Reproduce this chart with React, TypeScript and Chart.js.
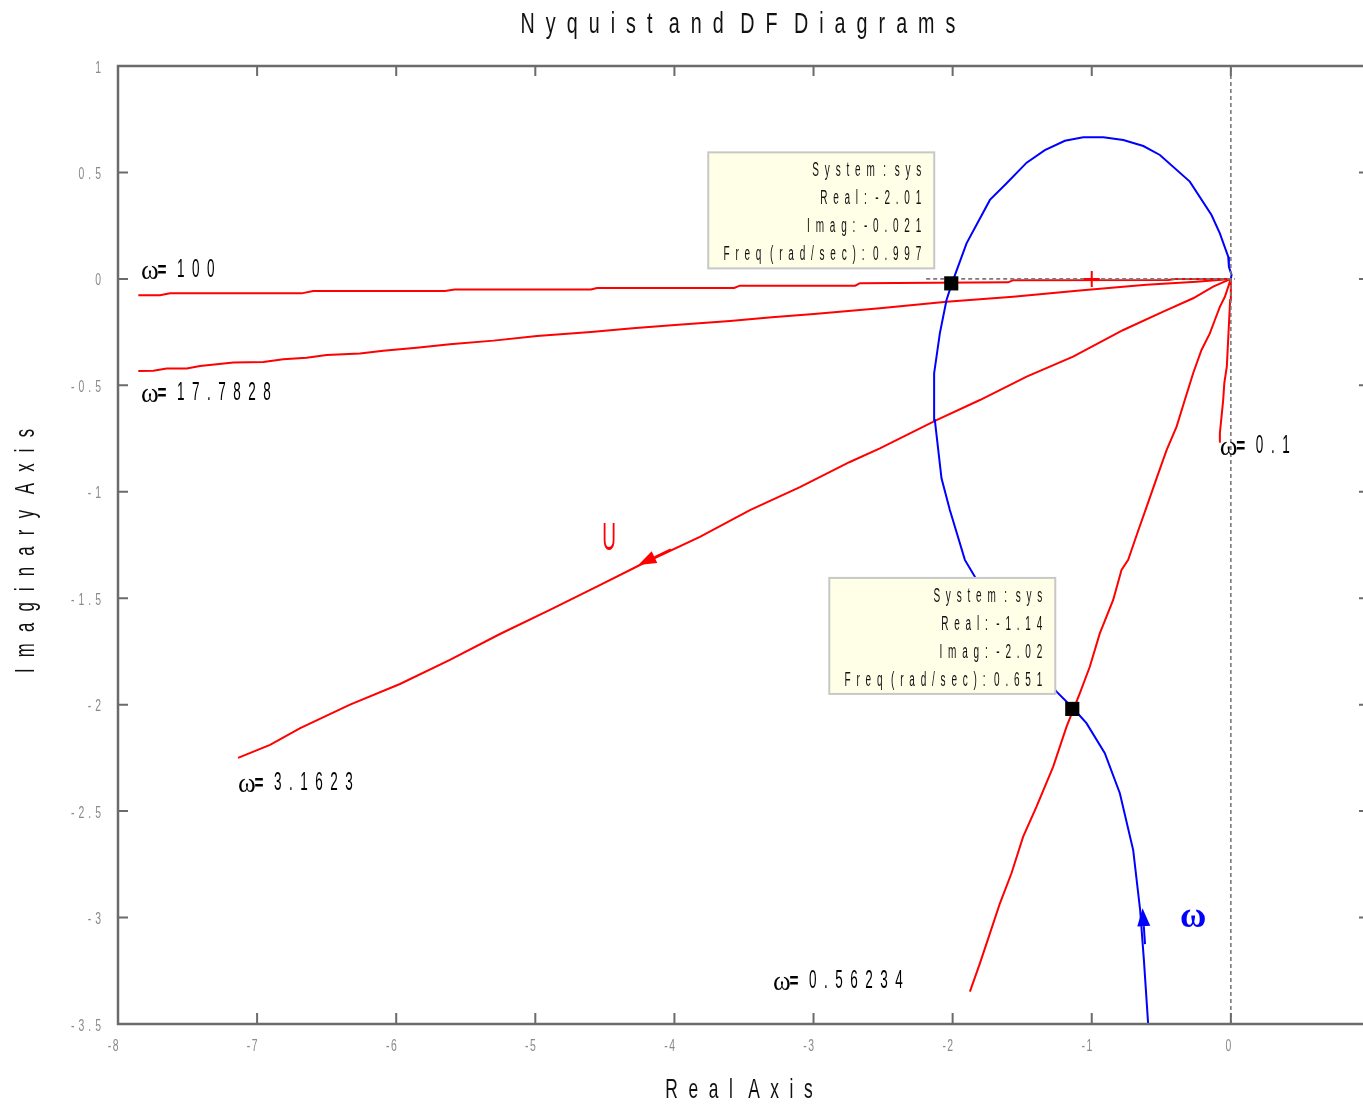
import React, { useEffect, useRef } from 'react';
import { Chart, registerables } from 'chart.js';

Chart.register(...registerables);

// ---------- DATA ----------
// Nyquist locus of G(jw) (blue), from low (bottom) to high frequency (origin)
const nyqRe = [-0.594, -0.625, -0.652, -0.702, -0.798, -0.906, -1.038, -1.134, -1.253, -1.45, -1.65, -1.84, -1.912, -2.02, -2.08, -2.128, -2.133, -2.092, -2.044, -2.004, -1.9, -1.732, -1.612, -1.468, -1.337, -1.193, -1.061, -0.917, -0.773, -0.629, -0.51, -0.295, -0.139, -0.079, -0.019, -0.014, 0.005, 0];
const nyqIm = [-3.505, -3.2, -2.965, -2.683, -2.416, -2.228, -2.087, -2.017, -1.939, -1.78, -1.58, -1.399, -1.32, -1.086, -0.937, -0.663, -0.443, -0.256, -0.099, -0.019, 0.167, 0.371, 0.449, 0.546, 0.605, 0.649, 0.665, 0.665, 0.652, 0.624, 0.582, 0.457, 0.3, 0.214, 0.104, 0.057, 0.019, 0];

// -1/N(A, w) describing-function loci (red), one per frequency
const dfFreqLabels = ['100', '17.7828', '3.1623', '0.56234', '0.1'];

const df100Re = [-7.854, -7.698, -7.626, -6.68, -6.597, -5.65, -5.58, -4.6, -4.557, -3.57, -3.53, -2.7, -2.667, -1.6, -1.565, -0.45, -0.4, 0];
const df100Im = [-0.077, -0.077, -0.068, -0.068, -0.057, -0.057, -0.05, -0.05, -0.043, -0.043, -0.032, -0.032, -0.02, -0.016, -0.006, -0.005, -0.001, 0];

const df17Re = [-7.854, -7.746, -7.65, -7.506, -7.41, -7.29, -7.171, -6.955, -6.812, -6.644, -6.5, -6.261, -6.093, -5.853, -5.614, -5.3, -4.988, -4.6, -4.3, -3.996, -3.6, -3.3, -2.997, -2.523, -2.044, -1.565, -1.086, -0.607, -0.247, 0];
const df17Im = [-0.433, -0.431, -0.421, -0.421, -0.409, -0.401, -0.393, -0.39, -0.378, -0.37, -0.358, -0.35, -0.337, -0.323, -0.307, -0.29, -0.268, -0.25, -0.232, -0.217, -0.198, -0.18, -0.165, -0.138, -0.107, -0.084, -0.055, -0.028, -0.013, 0];

const df3Re = [-7.137, -6.907, -6.69, -6.332, -5.973, -5.614, -5.254, -4.895, -4.536, -4.248, -3.817, -3.457, -3.098, -2.739, -2.523, -2.116, -1.804, -1.468, -1.134, -0.773, -0.486, -0.271, -0.127, 0];
const df3Im = [-2.25, -2.189, -2.11, -2.0, -1.903, -1.79, -1.668, -1.555, -1.438, -1.344, -1.212, -1.086, -0.978, -0.86, -0.796, -0.663, -0.569, -0.459, -0.365, -0.24, -0.154, -0.091, -0.036, 0];

const df05Re = [-1.876, -1.804, -1.732, -1.66, -1.577, -1.493, -1.397, -1.277, -1.181, -1.086, -1.014, -0.942, -0.846, -0.786, -0.738, -0.67, -0.6, -0.534, -0.462, -0.39, -0.331, -0.271, -0.211, -0.151, -0.115, -0.079, -0.043, 0];
const df05Im = [-3.348, -3.215, -3.074, -2.933, -2.792, -2.62, -2.479, -2.291, -2.103, -1.947, -1.822, -1.665, -1.508, -1.367, -1.32, -1.19, -1.06, -0.937, -0.804, -0.694, -0.569, -0.443, -0.334, -0.256, -0.193, -0.131, -0.084, 0];

const df01Re = [-0.084, -0.079, -0.067, -0.055, -0.047, -0.029, -0.017, -0.005, 0];
const df01Im = [-0.765, -0.725, -0.647, -0.569, -0.49, -0.412, -0.255, -0.099, 0];

// label anchors (data coords, left / baseline) for the frequency labels
const dfLabelRe = [-7.835, -7.835, -7.137, -3.292, -0.079];
const dfLabelIm = [0.009, -0.569, -2.401, -3.331, -0.818];

// data tips (intersection points)
const tipRe = [-2.01, -1.14];
const tipIm = [-0.021, -2.02];
const tipFreq = ['0.997', '0.651'];
const tipSystem = 'sys';

// critical point
const critRe = [-1];
const critIm = [0];

// direction arrows
const arrowRe = [-4.26, -0.635];
const arrowIm = [-1.344, -2.956];
const arrowDirRe = [-0.719, -0.058];
const arrowDirIm = [-0.226, 0.54];
const arrowColor = ['#ff0000', '#0000ff'];

// axes
const xMin = -8, xMax = 0.95, yMin = -3.5, yMax = 1;
const xTicks = [-8, -7, -6, -5, -4, -3, -2, -1, 0];
const yTicks = [1, 0.5, 0, -0.5, -1, -1.5, -2, -2.5, -3, -3.5];

const titleText = 'Nyquist and DF Diagrams';
const xTitle = 'Real Axis';
const yTitle = 'Imaginary Axis';

// ---------- helpers ----------
const SANS = "'Liberation Sans', Arial, Helvetica, sans-serif";
const SERIF = "'Liberation Serif', 'Times New Roman', serif";

type TextOpt = {
  size: number; sx: number; ls: number;
  align?: 'left' | 'center' | 'right';
  color?: string; family?: string; weight?: string; rotate?: number;
};

function setFont(ctx: CanvasRenderingContext2D, o: TextOpt) {
  ctx.font = `${o.weight ?? 'normal'} ${o.size}px ${o.family ?? SANS}`;
}

function measureSpaced(ctx: CanvasRenderingContext2D, text: string, o: TextOpt) {
  setFont(ctx, o);
  const chars = Array.from(text);
  let w = 0;
  chars.forEach((ch, i) => {
    w += ctx.measureText(ch).width * o.sx;
    if (i < chars.length - 1 && ch !== ' ') w += o.ls;
  });
  return w;
}

function drawSpaced(ctx: CanvasRenderingContext2D, text: string, x: number, y: number, o: TextOpt) {
  ctx.save();
  ctx.translate(x, y);
  if (o.rotate) ctx.rotate(o.rotate);
  const total = measureSpaced(ctx, text, o);
  ctx.fillStyle = o.color ?? '#000';
  ctx.textAlign = 'left';
  ctx.textBaseline = 'alphabetic';
  let cx = o.align === 'center' ? -total / 2 : o.align === 'right' ? -total : 0;
  for (const ch of Array.from(text)) {
    const w = ctx.measureText(ch).width * o.sx;
    if (ch !== ' ') {
      ctx.save();
      ctx.translate(cx, 0);
      ctx.scale(o.sx, 1);
      ctx.fillText(ch, 0, 0);
      ctx.restore();
    }
    cx += w + (ch !== ' ' ? o.ls : 0);
  }
  ctx.restore();
  return total;
}

const pts = (xs: number[], ys: number[]) => xs.map((x, i) => ({ x, y: ys[i] }));

const matlabPlugin = {
  id: 'matlabDecor',
  afterDraw(chart: any) {
    const ctx: CanvasRenderingContext2D = chart.ctx;
    const xs = chart.scales.x;
    const ys = chart.scales.y;
    const ca = chart.chartArea;
    const px = (v: number) => xs.getPixelForValue(v);
    const py = (v: number) => ys.getPixelForValue(v);

    // arrows
    arrowRe.forEach((ax, i) => {
      const P = { x: px(ax), y: py(arrowIm[i]) };
      const Q = { x: px(ax - arrowDirRe[i] * 0.1), y: py(arrowIm[i] - arrowDirIm[i] * 0.1) };
      let ux = P.x - Q.x, uy = P.y - Q.y;
      const L = Math.hypot(ux, uy);
      ux /= L; uy /= L;
      const nx = -uy, ny = ux;
      const bx = P.x - ux * 18, by = P.y - uy * 18;
      ctx.save();
      ctx.fillStyle = arrowColor[i];
      ctx.strokeStyle = arrowColor[i];
      ctx.lineWidth = 2;
      ctx.beginPath();
      ctx.moveTo(P.x, P.y);
      ctx.lineTo(bx + nx * 6.5, by + ny * 6.5);
      ctx.lineTo(bx - nx * 6.5, by - ny * 6.5);
      ctx.closePath();
      ctx.fill();
      ctx.beginPath();
      ctx.moveTo(bx, by);
      ctx.lineTo(bx - ux * 18, by - uy * 18);
      ctx.stroke();
      ctx.restore();
    });

    // "U" and "ω" annotations
    drawSpaced(ctx, 'U', 609, 550, { size: 38, sx: 0.5, ls: 0, align: 'center', color: '#ff0000' });
    drawSpaced(ctx, 'ω', 1180, 927, { size: 36, sx: 1, ls: 0, family: SERIF, weight: 'bold', color: '#0000ff' });

    // frequency labels
    dfFreqLabels.forEach((lab, i) => {
      const x0 = px(dfLabelRe[i]);
      const y0 = py(dfLabelIm[i]);
      drawSpaced(ctx, 'ω', x0, y0 + 2, { size: 27, sx: 1, ls: 0, family: SERIF });
      drawSpaced(ctx, '=', x0 + 16.5, y0, { size: 22, sx: 0.7, ls: 0, weight: 'bold' });
      drawSpaced(ctx, lab, x0 + 36, y0, { size: 25.5, sx: 0.53, ls: 7.5 });
    });

    // data tips
    tipRe.forEach((re, i) => {
      const mx = px(re), my = py(tipIm[i]);
      const r = mx - 17, b = my - 15, w = 226, h = 116;
      ctx.save();
      ctx.fillStyle = '#ffffe8';
      ctx.fillRect(r - w, b - h, w, h);
      ctx.strokeStyle = '#c8c8c8';
      ctx.lineWidth = 2;
      ctx.strokeRect(r - w, b - h, w, h);
      ctx.restore();
      const lines = [`System : ${tipSystem}`, `Real: ${re}`, `Imag: ${tipIm[i]}`, `Freq (rad/sec): ${tipFreq[i]}`];
      lines.forEach((t, k) => {
        drawSpaced(ctx, t, r - 13, b - h + 24 + 28 * k, { size: 20, sx: 0.5, ls: 5.8, align: 'right', color: '#111' });
      });
    });

    // frame (right border lies just beyond the visible canvas)
    ctx.save();
    ctx.strokeStyle = '#6b6b6b';
    ctx.lineWidth = 2.5;
    ctx.beginPath();
    ctx.moveTo(ca.left, ca.top); ctx.lineTo(ca.right, ca.top);
    ctx.moveTo(ca.left, ca.top - 1.25); ctx.lineTo(ca.left, ca.bottom + 1.25);
    ctx.moveTo(ca.left, ca.bottom); ctx.lineTo(ca.right, ca.bottom);
    ctx.stroke();
    ctx.lineWidth = 2;
    ctx.beginPath();
    xTicks.forEach((v) => {
      const X = px(v);
      ctx.moveTo(X, ca.top); ctx.lineTo(X, ca.top + 10);
      ctx.moveTo(X, ca.bottom); ctx.lineTo(X, ca.bottom - 11);
    });
    yTicks.forEach((v) => {
      const Y = py(v);
      ctx.moveTo(ca.left, Y); ctx.lineTo(ca.left + 10, Y);
      ctx.moveTo(ca.right, Y); ctx.lineTo(ca.right - 4, Y);
    });
    ctx.stroke();
    ctx.restore();

    // tick labels
    xTicks.forEach((v) => {
      drawSpaced(ctx, String(v), px(v) + 0.5, ca.bottom + 27, { size: 16, sx: 0.65, ls: 1.5, align: 'right', color: '#8a8a8a' });
    });
    yTicks.forEach((v) => {
      drawSpaced(ctx, String(v), ca.left - 17, py(v) + 6.5, { size: 16, sx: 0.65, ls: 4, align: 'right', color: '#8a8a8a' });
    });

    // titles
    drawSpaced(ctx, titleText, 738, 33.3, { size: 29, sx: 0.68, ls: 11, align: 'center', color: '#111' });
    drawSpaced(ctx, xTitle, 739, 1098, { size: 28, sx: 0.62, ls: 10.6, align: 'center', color: '#111' });
    drawSpaced(ctx, yTitle, 33.5, 551, { size: 27, sx: 0.62, ls: 11.2, align: 'center', color: '#111', rotate: -Math.PI / 2 });
  },
};

export default function App() {
  const ref = useRef<HTMLCanvasElement>(null);

  useEffect(() => {
    const canvas = ref.current;
    if (!canvas) return;
    const red = '#ff0000';
    const redLine = (xs: number[], ys: number[]) => ({
      type: 'scatter' as const,
      data: pts(xs, ys),
      showLine: true,
      borderColor: red,
      backgroundColor: red,
      borderWidth: 2,
      pointRadius: 0,
      tension: 0,
      order: 3,
    });
    const chart = new Chart(canvas, {
      type: 'scatter',
      data: {
        datasets: [
          {
            data: pts(tipRe, tipIm),
            showLine: false,
            pointStyle: 'rect',
            pointRadius: 10,
            borderWidth: 0,
            backgroundColor: '#000',
            borderColor: '#000',
            order: 0,
          },
          {
            data: pts(critRe, critIm),
            showLine: false,
            pointStyle: 'cross',
            pointRadius: 8,
            borderWidth: 2,
            borderColor: red,
            backgroundColor: red,
            order: 0,
          },
          {
            data: [{ x: 0, y: yMin }, { x: 0, y: yMax }],
            showLine: true,
            borderColor: '#7a7a7a',
            borderWidth: 1.6,
            borderDash: [4, 3],
            pointRadius: 0,
            order: 1,
          },
          {
            data: [{ x: -2.19, y: 0 }, { x: 0.03, y: 0 }],
            showLine: true,
            borderColor: '#7a7a7a',
            borderWidth: 1.6,
            borderDash: [4, 3],
            pointRadius: 0,
            order: 1,
          },
          {
            data: pts(nyqRe, nyqIm),
            showLine: true,
            borderColor: '#0000ff',
            backgroundColor: '#0000ff',
            borderWidth: 2,
            pointRadius: 0,
            tension: 0,
            order: 2,
          },
          redLine(df100Re, df100Im),
          redLine(df17Re, df17Im),
          redLine(df3Re, df3Im),
          redLine(df05Re, df05Im),
          redLine(df01Re, df01Im),
        ] as any,
      },
      options: {
        animation: false,
        responsive: false,
        events: [],
        layout: { autoPadding: false, padding: { left: 118, top: 66, right: 0, bottom: 88 } },
        plugins: {
          legend: { display: false },
          tooltip: { enabled: false },
          title: { display: false },
        },
        scales: {
          x: { type: 'linear', min: xMin, max: xMax, display: false },
          y: { type: 'linear', min: yMin, max: yMax, display: false },
        },
      } as any,
      plugins: [matlabPlugin],
    });
    return () => chart.destroy();
  }, []);

  return (
    <div style={{ position: 'absolute', left: 0, top: 0, width: 1363, height: 1112, background: '#fff' }}>
      <canvas ref={ref} width={1363} height={1112} style={{ display: 'block', width: 1363, height: 1112 }} />
    </div>
  );
}
